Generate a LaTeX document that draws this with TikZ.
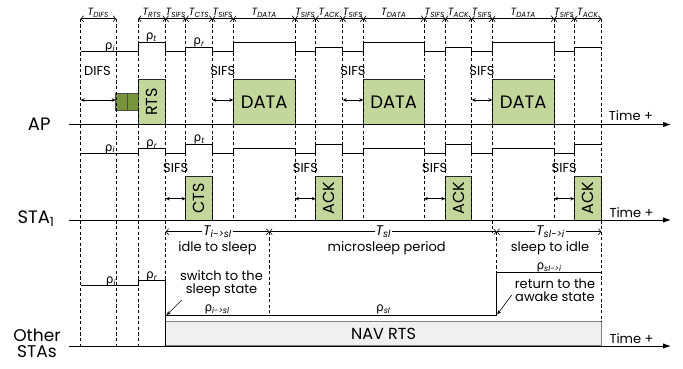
\documentclass[tikz,border=0pt]{standalone}
\usepackage{fontspec}
\setmainfont{Poppins}
\newfontfamily\grk{DejaVu Sans}
\usetikzlibrary{arrows.meta}
\definecolor{boxgreen}{RGB}{195,214,155}
\definecolor{bkgreen}{RGB}{119,147,60}
\definecolor{navfill}{RGB}{240,240,240}
\definecolor{navline}{RGB}{128,128,128}
\newcommand{\rh}[1]{{\grk ρ}\textsubscript{\itshape #1}}
\newcommand{\tsub}[1]{{\itshape T\textsubscript{#1}}}
\newcommand{\fs}[1]{\fontsize{#1}{#1}\selectfont}
\begin{document}
\begin{tikzpicture}[x=1pt,y=-1pt,
  guide/.style={dash pattern=on 3.2pt off 2.4pt, line width=0.6pt},
  sig/.style={line width=0.8pt},
  axisline/.style={line width=0.9pt, -{Latex[length=8pt,width=5.5pt]}},
  pkt/.style={draw=black!85, fill=boxgreen, line width=0.8pt, inner sep=0pt, font=\fs{16}},
  bko/.style={draw=black!70, fill=bkgreen, line width=0.8pt, inner sep=0pt, minimum width=11.3pt, minimum height=16.3pt},
  dur/.style={line width=0.6pt, {Straight Barb[length=2.5pt,width=6pt]}-{Straight Barb[length=2.5pt,width=6pt]}},
  gap/.style={line width=0.6pt, {Stealth[length=4pt,width=3.5pt]}-{Stealth[length=4pt,width=3.5pt]}},
  ttop/.style={font=\fs{10.5}, anchor=base, inner sep=0pt},
  lbl/.style={font=\fs{13}, inner sep=0pt, align=center},
  rho/.style={font=\fs{12}, anchor=base, inner sep=0pt},
  rowlbl/.style={font=\fs{18}, inner sep=0pt, align=center},
  tmid/.style={font=\fs{14}, fill=white, inner sep=1pt},
  note/.style={line width=0.6pt, -{Stealth[length=4pt,width=3.5pt]}}
]
\useasboundingbox (0,0) rectangle (683,368);

% ---- packet boxes ----
\node[pkt, minimum width=27.4pt, minimum height=45.2pt] (rts) at (152,101.9) {\rotatebox{90}{RTS}};
\node[pkt, minimum width=61.7pt, minimum height=45.2pt, font=\fs{18}] (data1) at (264.15,101.9) {DATA};
\node[pkt, minimum width=60.7pt, minimum height=45.2pt, font=\fs{18}] (data2) at (393.65,101.9) {DATA};
\node[pkt, minimum width=61.7pt, minimum height=45.2pt, font=\fs{18}] (data3) at (523.15,101.9) {DATA};
\node[pkt, minimum width=26.6pt, minimum height=43.3pt] (cts) at (199,198.35) {\rotatebox{90}{CTS}};
\node[pkt, minimum width=27pt, minimum height=43.3pt] (ack1) at (329.2,198.35) {\rotatebox{90}{ACK}};
\node[pkt, minimum width=26.4pt, minimum height=43.3pt] (ack2) at (458.5,198.35) {\rotatebox{90}{ACK}};
\node[pkt, minimum width=27pt, minimum height=43.3pt] (ack3) at (587.8,198.35) {\rotatebox{90}{ACK}};
\node[bko] (bk1) at (121.35,101.85) {};
\node[bko] (bk2) at (132.65,101.85) {};

% ---- NAV box ----
\node[draw=navline, fill=navfill, line width=1.2pt, minimum width=435.6pt, minimum height=24.3pt, inner sep=0pt, font=\fs{16}] (nav) at (383.5,333.85) {NAV RTS};

% ---- guides ----
\foreach \x in {80.7,116,138.3} \draw[guide] (\x,18.7) -- (\x,346);
\draw[guide] (165.7,18.7) -- (165.7,280.7);
\foreach \x in {185.7,212.3,233.3,295,315.7,342.7,363.3,424,445.3,471.7,554,574.3} \draw[guide] (\x,18.7) -- (\x,220);
\draw[guide] (492.3,18.7) -- (492.3,231.7);
\draw[guide] (601.3,18.7) -- (601.3,321.7);
\draw[guide] (269.3,231.7) -- (269.3,315);
\draw[guide] (496.7,231.7) -- (496.7,272.3);

% ---- axes ----
\coordinate (apL) at (69.3,124.5); \coordinate (apR) at (671,124.5);
\coordinate (staL) at (69.3,220); \coordinate (staR) at (671,220);
\coordinate (othL) at (69.3,346); \coordinate (othR) at (671,346);
\draw[axisline] (apL) -- (apR);
\draw[axisline] (staL) -- (staR);
\draw[axisline] (othL) -- (othR);
\node[rowlbl] (ap) at (39.2,124.5) {AP};
\node[rowlbl] (sta) at (36,218.5) {STA\textsubscript{1}};
\node[rowlbl, font=\fs{17}] (oth) at (37,343.5) {Other\\[-1pt]STAs};
\node[lbl, anchor=base west] (t1) at (608.7,120) {Time +};
\node[lbl, anchor=base west] (t2) at (609.3,217.3) {Time +};
\node[lbl, anchor=base west] (t3) at (609.3,343.3) {Time +};

% ---- top duration arrows ----
\draw[dur] (80.7,18.7) -- (116,18.7);
\foreach \a/\b in {138.3/165.7,165.7/185.7,185.7/212.3,212.3/233.3,233.3/295,295/315.7,315.7/342.7,342.7/363.3,363.3/424,424/445.3,445.3/471.7,471.7/492.3,492.3/554,554/574.3,574.3/601.3}
  \draw[dur] (\a,18.7) -- (\b,18.7);
\foreach \x/\t [count=\i] in {98.3/DIFS,152/RTS,175.7/SIFS,199/CTS,222.8/SIFS,264.2/DATA,305.4/SIFS,329.2/ACK,353/SIFS,393.7/DATA,434.7/SIFS,458.5/ACK,482/SIFS,523.2/DATA,564.2/SIFS,587.8/ACK}
  \node[ttop] (tt\i) at (\x,15.5) {\tsub{\t}};

% ---- AP signal ----
\draw[sig] (80.7,51.7) -- (138.3,51.7) -- (138.3,42) -- (165.7,42) -- (165.7,51.7) -- (185.7,51.7) -- (185.7,47) -- (212.3,47) -- (212.3,51.7) -- (233.3,51.7) -- (233.3,42) -- (295,42) -- (295,51.7) -- (315.7,51.7) -- (315.7,47) -- (342.7,47) -- (342.7,51.7) -- (363.3,51.7) -- (363.3,42) -- (424,42) -- (424,51.7) -- (445.3,51.7) -- (445.3,47) -- (471.7,47) -- (471.7,51.7) -- (492.3,51.7) -- (492.3,42) -- (554,42) -- (554,51.7) -- (574.3,51.7) -- (574.3,47) -- (601.3,47);
\node[rho] (ap-ri) at (110,49.5) {\rh{i}};
\node[rho] (ap-rt) at (151.3,39.5) {\rh{t}};
\node[rho] (ap-rr) at (199,44.5) {\rh{r}};

% ---- STA1 signal ----
\draw[sig] (80.7,153.3) -- (138.3,153.3) -- (138.3,148.7) -- (165.7,148.7) -- (165.7,153.3) -- (185.7,153.3) -- (185.7,144) -- (212.3,144) -- (212.3,153.3) -- (233.3,153.3) -- (233.3,148.7) -- (295,148.7) -- (295,153.3) -- (315.7,153.3) -- (315.7,144) -- (342.7,144) -- (342.7,153.3) -- (363.3,153.3) -- (363.3,148.7) -- (424,148.7) -- (424,153.3) -- (445.3,153.3) -- (445.3,144) -- (471.7,144) -- (471.7,153.3) -- (492.3,153.3) -- (492.3,148.7) -- (554,148.7) -- (554,153.3) -- (574.3,153.3) -- (574.3,144) -- (601.3,144);
\node[rho] (st-ri) at (110,151) {\rh{i}};
\node[rho] (st-rr) at (151.7,146.3) {\rh{r}};
\node[rho] (st-rt) at (199.2,141.6) {\rh{t}};

% ---- DIFS / SIFS ----
\node[lbl] (difs) at (97.5,71.3) {DIFS};
\draw[gap] (80.7,100) -- (115.7,100);
\foreach \c/\a/\b [count=\i] in {222.8/212.3/233.3,353/342.7/363.3,482/471.7/492.3}{
  \node[lbl] (sa\i) at (\c,71.3) {SIFS};
  \draw[gap] (\a,100) -- (\b,100);
}
\foreach \c/\a/\b [count=\i] in {175.7/165.7/185.7,305.4/295/315.7,434.7/424/445.3,564.2/554/574.3}{
  \node[lbl] (sb\i) at (\c,168.3) {SIFS};
  \draw[gap] (\a,198.7) -- (\b,198.7);
}

% ---- other STAs signal ----
\draw[sig] (80.7,285.7) -- (138.3,285.7) -- (138.3,280.7) -- (165.7,280.7) -- (165.7,346);
\draw[sig] (165.7,315) -- (496.7,315) -- (496.7,272.3) -- (601.3,272.3);
\node[rho] (o-ri) at (111,283.3) {\rh{i}};
\node[rho] (o-rr) at (151.7,278.3) {\rh{r}};
\node[rho] (o-ris) at (217,311.5) {\rh{i->sl}};
\node[rho] (o-rs) at (383.3,311.5) {\rh{sl}};
\node[rho] (o-rsi) at (549,269.5) {\rh{sl->i}};

% ---- sleep timing ----
\draw[dur] (165.7,231.7) -- (269.3,231.7);
\draw[dur] (269.3,231.7) -- (496.7,231.7);
\draw[dur] (496.7,231.7) -- (601.3,231.7);
\node[tmid] (tis) at (217.5,231.7) {\tsub{i->sl}};
\node[tmid] (tsl) at (383.3,231.7) {\tsub{sl}};
\node[tmid] (tsi) at (550.5,231.7) {\tsub{sl->i}};
\node[lbl] (idle) at (217.5,248) {idle to sleep};
\node[lbl] (micro) at (386.7,248) {microsleep period};
\node[lbl] (sleepi) at (550,248) {sleep to idle};
\node[lbl] (sw) at (221.5,284) {switch to the\\sleep state};
\node[lbl] (rt) at (555,290.3) {return to the\\awake state};
\coordinate (c1) at (166.7,315);
\coordinate (c2) at (497.3,314.3);
\draw[note] (181.7,300) -- (c1);
\draw[note] (511.7,295) -- (c2);
\end{tikzpicture}
\end{document}
